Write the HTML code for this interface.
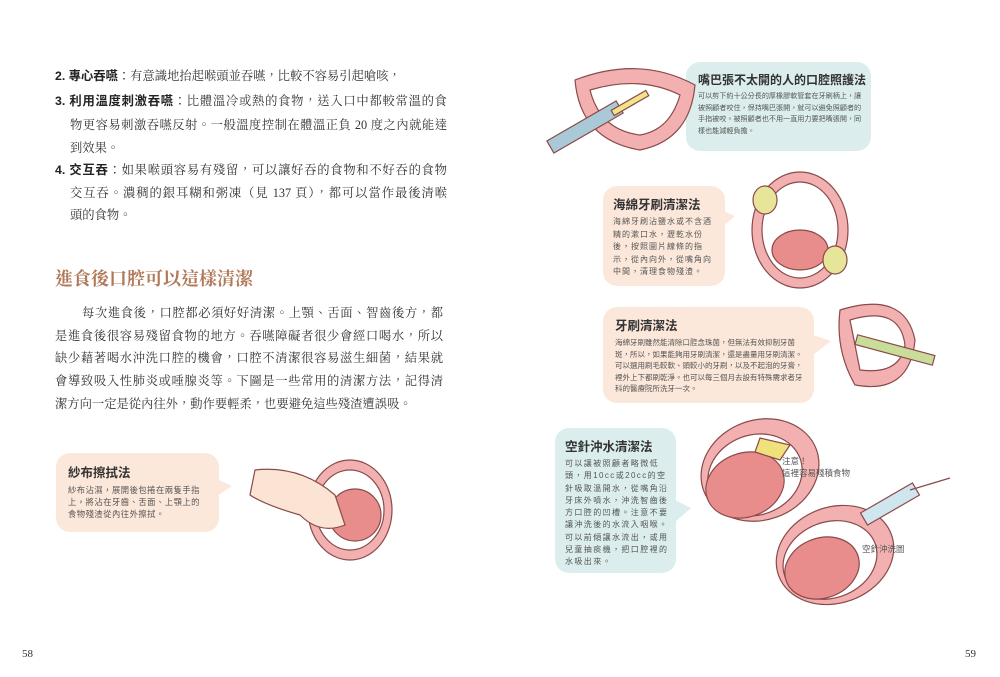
<!DOCTYPE html>
<html><head><meta charset="utf-8"><style>
body{margin:0;width:1000px;height:677px;background:#fff;position:relative;overflow:hidden;font-family:"Liberation Serif","Noto Serif CJK TC","Noto Serif CJK SC",serif;color:#333}
.l{position:absolute;font-size:12.3px;line-height:16px;text-align:justify;text-align-last:justify;white-space:nowrap;overflow:hidden}
.b{font-family:"Liberation Sans","Noto Sans CJK TC",sans-serif;font-weight:bold;color:#222}
.box{position:absolute;border-radius:14px;font-family:"Liberation Sans","Noto Sans CJK TC",sans-serif}
.box h3{margin:0;font-size:12.5px;font-weight:bold;color:#333;white-space:nowrap}
.box p{margin:3px 0 0;color:#555}
.pk{background:#fce8da}.tl{background:#dbeeed}
.tri{position:absolute;width:0;height:0}
.s{font-family:"Liberation Sans","Noto Sans CJK TC",sans-serif;position:absolute;font-size:8.5px;color:#555;line-height:12px}
</style></head><body>
<div class="l" style="left:55px;top:68px;width:380px;text-align-last:left"><span class="b">2. 專心吞嚥</span>：有意識地抬起喉頭並吞嚥，比較不容易引起嗆咳，</div>
<div class="l" style="left:55px;top:93px;width:392px"><span class="b">3. 利用溫度刺激吞嚥</span>：比體溫冷或熱的食物，送入口中都較常溫的食</div>
<div class="l" style="left:70px;top:117px;width:377px">物更容易刺激吞嚥反射。一般溫度控制在體溫正負 20 度之內就能達</div>
<div class="l" style="left:70px;top:140px;width:100px;text-align-last:left">到效果。</div>
<div class="l" style="left:55px;top:162px;width:392px"><span class="b">4. 交互吞</span>：如果喉頭容易有殘留，可以讓好吞的食物和不好吞的食物</div>
<div class="l" style="left:70px;top:185px;width:377px">交互吞。濃稠的銀耳糊和粥凍（見 137 頁），都可以當作最後清喉</div>
<div class="l" style="left:70px;top:207px;width:100px;text-align-last:left">頭的食物。</div>

<div class="l" style="left:55px;top:268px;font-size:18px;line-height:22px;color:#b07a58;font-weight:bold;width:220px;text-align-last:left">進食後口腔可以這樣清潔</div>
<div class="l" style="left:82px;top:305px;width:361px">每次進食後，口腔都必須好好清潔。上顎、舌面、智齒後方，都</div>
<div class="l" style="left:55px;top:328px;width:388px">是進食後很容易殘留食物的地方。吞嚥障礙者很少會經口喝水，所以</div>
<div class="l" style="left:55px;top:350px;width:388px">缺少藉著喝水沖洗口腔的機會，口腔不清潔很容易滋生細菌，結果就</div>
<div class="l" style="left:55px;top:373px;width:388px">會導致吸入性肺炎或唾腺炎等。下圖是一些常用的清潔方法，記得清</div>
<div class="l" style="left:55px;top:396px;width:390px;text-align-last:left">潔方向一定是從內往外，動作要輕柔，也要避免這些殘渣遭誤吸。</div>

<div class="box pk" style="left:56px;top:453px;width:140px;height:70px;padding:9px 11px 0 12px"><h3>紗布擦拭法</h3><p style="font-size:8.3px;line-height:12px;letter-spacing:0.5px">紗布沾濕，展開後包捲在兩隻手指上，將沾在牙齒、舌面、上顎上的食物殘渣從內往外擦拭。</p></div>
<div class="tri" style="left:214px;top:478px;border-left:18px solid #fce8da;border-top:8px solid transparent;border-bottom:12px solid transparent"></div>

<div class="box tl" style="left:686px;top:62px;width:164px;height:80px;padding:9px 9px 0 12px"><h3 style="font-size:12px">嘴巴張不太開的人的口腔照護法</h3><p style="font-size:7.1px;line-height:11.5px">可以剪下約十公分長的厚橡膠軟管套在牙刷柄上，讓被照顧者咬住，保持嘴巴張開，就可以避免照顧者的手指被咬。被照顧者也不用一直用力要把嘴張開，同樣也能減輕負擔。</p></div>
<div class="tri" style="left:672px;top:94px;border-right:16px solid #dbeeed;border-top:6px solid transparent;border-bottom:12px solid transparent"></div>

<div class="box pk" style="left:603px;top:186px;width:106px;height:92px;padding:8px 6px 0 10px"><h3>海綿牙刷清潔法</h3><p style="font-size:8px;line-height:12.5px;letter-spacing:1px">海綿牙刷沾鹽水或不含酒精的漱口水，瀝乾水份後，按照圖片線條的指示，從內向外，從嘴角向中間，清理食物殘渣。</p></div>
<div class="tri" style="left:721px;top:210px;border-left:14px solid #fce8da;border-top:6px solid transparent;border-bottom:12px solid transparent"></div>

<div class="box pk" style="left:603px;top:307px;width:192px;height:88px;padding:8px 7px 0 12px"><h3>牙刷清潔法</h3><p style="font-size:7.5px;line-height:11.5px">海綿牙刷雖然能清除口腔念珠菌，但無法有效抑制牙菌斑，所以，如果能夠用牙刷清潔，還是盡量用牙刷清潔。可以選用刷毛較軟、頭較小的牙刷，以及不起泡的牙膏，裡外上下都刷乾淨。也可以每三個月去設有特殊需求者牙科的醫療院所洗牙一次。</p></div>
<div class="tri" style="left:813px;top:335px;border-left:18px solid #fce8da;border-top:6px solid transparent;border-bottom:14px solid transparent"></div>

<div class="box tl" style="left:555px;top:428px;width:104px;height:137px;padding:8px 7px 0 10px"><h3>空針沖水清潔法</h3><p style="font-size:8px;line-height:12.3px;letter-spacing:1.4px">可以讓被照顧者略微低頭，用10cc或20cc的空針吸取溫開水，從嘴角沿牙床外噴水，沖洗智齒後方口腔的凹槽。注意不要讓沖洗後的水流入咽喉。可以前傾讓水流出，或用兒童抽痰機，把口腔裡的水吸出來。</p></div>
<div class="tri" style="left:675px;top:500px;border-left:16px solid #dbeeed;border-top:8px solid transparent;border-bottom:14px solid transparent"></div>

<svg style="position:absolute;left:0;top:0" width="1000" height="677">
<g stroke="#8a4a4a" stroke-width="1.2">
<ellipse cx="350" cy="510" rx="42" ry="50" fill="#f2b0b0"/>
<ellipse cx="350" cy="510" rx="34" ry="40" fill="#fff"/>
<ellipse cx="355" cy="515" rx="26" ry="26" fill="#e88c8c"/>
<path d="M255 470 Q300 465 335 495 L345 525 Q320 535 300 515 Q265 505 250 495Z" fill="#fbe4d3"/>
<path d="M575 80 Q640 55 695 85 Q690 140 640 150 Q580 140 575 80Z" fill="#f2b0b0"/>
<path d="M590 90 Q640 75 680 95 Q670 130 640 135 Q600 130 590 90Z" fill="#fff"/>
<rect x="545" y="120" width="80" height="14" transform="rotate(-30 585 127)" fill="#a9c9d6"/>
<rect x="610" y="100" width="40" height="6" transform="rotate(-30 630 103)" fill="#f2e38a"/>
<ellipse cx="800" cy="230" rx="48" ry="58" fill="#f2b0b0"/>
<ellipse cx="800" cy="230" rx="38" ry="48" fill="#fff"/>
<ellipse cx="800" cy="250" rx="28" ry="20" fill="#e88c8c"/>
<ellipse cx="765" cy="200" rx="12" ry="14" fill="#e7e59a"/>
<ellipse cx="835" cy="260" rx="12" ry="14" fill="#e7e59a"/>
<path d="M840 310 Q905 290 915 340 Q910 395 855 385 Q835 350 840 310Z" fill="#f2b0b0"/>
<path d="M850 320 Q900 305 905 345 Q900 375 860 370Z" fill="#fff"/>
<rect x="855" y="345" width="80" height="10" transform="rotate(15 895 350)" fill="#c9dd9a"/>
<ellipse cx="760" cy="470" rx="60" ry="50" transform="rotate(-20 760 470)" fill="#f2b0b0"/>
<ellipse cx="755" cy="475" rx="48" ry="40" transform="rotate(-20 755 475)" fill="#fff"/>
<ellipse cx="745" cy="485" rx="40" ry="32" transform="rotate(-20 745 485)" fill="#e88c8c"/>
<path d="M790 445 L780 460 L755 452 L760 438Z" fill="#f0e27a"/>
<ellipse cx="835" cy="555" rx="60" ry="48" transform="rotate(-20 835 555)" fill="#f2b0b0"/>
<ellipse cx="830" cy="560" rx="48" ry="38" transform="rotate(-20 830 560)" fill="#fff"/>
<ellipse cx="822" cy="568" rx="38" ry="30" transform="rotate(-20 822 568)" fill="#e88c8c"/>
<rect x="860" y="497" width="60" height="14" transform="rotate(-30 890 504)" fill="#cfe6ef"/>
<line x1="910" y1="490" x2="950" y2="478"/>
</g>
</svg>
<div class="s" style="left:782px;top:455px">注意！<br>這裡容易殘積食物</div>
<div class="s" style="left:862px;top:543px">空針沖洗圖</div>
<div class="l" style="left:22px;top:646px;font-size:11px;width:30px;text-align-last:left">58</div>
<div class="l" style="left:965px;top:646px;font-size:11px;width:30px;text-align-last:left">59</div>
</body></html>
